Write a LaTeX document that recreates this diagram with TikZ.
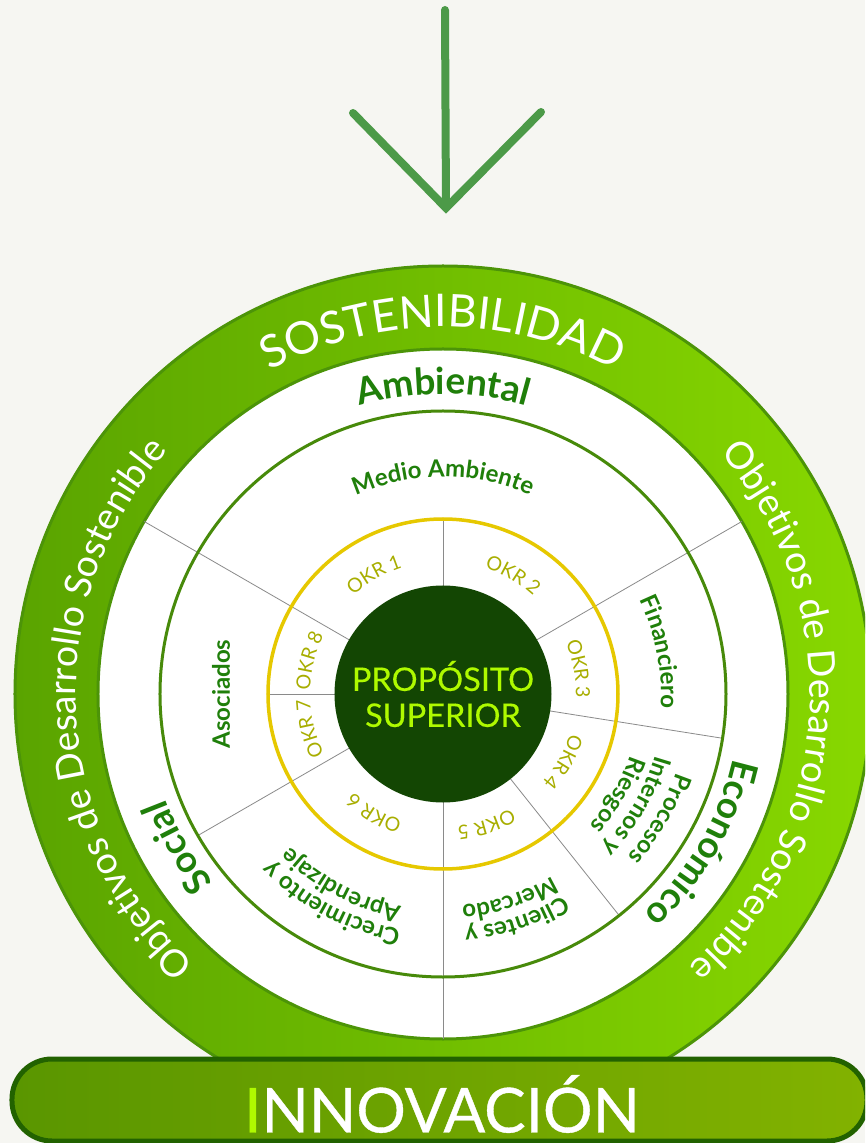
\documentclass[tikz,border=0pt]{standalone}
\usepackage{fontspec}
\setmainfont{Lato}
\usetikzlibrary{decorations.text,calc}
\definecolor{bgc}{HTML}{F6F6F2}
\definecolor{arrowc}{HTML}{4C9A48}
\definecolor{ringl}{HTML}{5AA400}
\definecolor{ringr}{HTML}{88D800}
\definecolor{ringb}{HTML}{4C9408}
\definecolor{innerc}{HTML}{478A0A}
\definecolor{darkc}{HTML}{134603}
\definecolor{limec}{HTML}{AFFA00}
\definecolor{txtg}{HTML}{1F7F0A}
\definecolor{okrt}{HTML}{A8AE00}
\definecolor{yelc}{HTML}{E6C800}
\definecolor{divc}{HTML}{8A8A8A}
\definecolor{barl}{HTML}{5A9600}
\definecolor{barr}{HTML}{82B200}
\definecolor{barb}{HTML}{226200}
\newcommand\fSos{\fontsize{45}{47}\selectfont\color{white}}
\newcommand\fObj{\fontsize{37.5}{39}\selectfont\color{white}}
\newcommand\fDim{\fontsize{37}{39}\selectfont\bfseries\color{txtg}}
\newcommand\fSec{\fontsize{24}{26}\selectfont\bfseries\color{txtg}}
\newcommand\fOkr{\fontsize{19.5}{21}\selectfont\color{okrt}}
\newcommand\arcT[5]{\path[decorate,decoration={text along path,text align=center,text={|#4|#5}}]
  (#2+#3:#1) arc[start angle=#2+#3,end angle=#2-#3,radius=#1];}
\tikzset{
  divider/.style={draw=divc,line width=0.8pt},
  arrowline/.style={draw=arrowc,line width=8pt,line cap=round,line join=miter},
}
\begin{document}
\begin{tikzpicture}[x=1pt,y=1pt]
\useasboundingbox (-443,-449) rectangle (422,694);
\clip (-443,-449) rectangle (422,694);
\fill[bgc] (-443,-449) rectangle (422,694);
% arrow
\coordinate (atop) at (2,684);
\coordinate (atip) at (3,486);
\coordinate (aleft) at (-90,581);
\coordinate (aright) at (98,582);
\path[arrowline] (atop) -- (atip);
\path[arrowline] (aleft) -- (atip) -- (aright);
% rings
\coordinate (c) at (0,0);
\shade[left color=ringl,right color=ringr] (c) circle[radius=429];
\draw[ringb,line width=3pt] (c) circle[radius=428];
\fill[white] (c) circle[radius=345];
\draw[ringb,line width=3pt] (c) circle[radius=345];
% dividers
\foreach \a/\r in {30/345,150/345,-90/345,-9/283,-51.5/283,210/283,90/175,180/175}{
  \draw[divider] (\a:108) -- (\a:\r);
}
\draw[innerc,line width=3pt] (c) circle[radius=283];
\draw[yelc,line width=3.5pt] (c) circle[radius=175];
\node[circle,fill=darkc,minimum size=217pt,inner sep=0pt,align=center,text=limec,font=\fontsize{32.5}{36}\selectfont\addfontfeature{FakeBold=0.3}] (core) at (c) {PROPÓSITO\\SUPERIOR};
% outer labels
\arcT{367}{90}{60}{\fSos}{SOSTENIBILIDAD}
\arcT{367}{183}{70}{\fObj}{Objetivos de Desarrollo Sostenible}
\arcT{367}{-3.5}{70}{\fObj}{Objetivos de Desarrollo Sostenible}
% dimensions
\arcT{300}{90}{40}{\fDim}{Ambiental}
\arcT{297}{-30}{40}{\fDim}{Económico}
\arcT{297}{210}{30}{\fDim}{Social}
% sections
\arcT{217}{90}{50}{\fSec}{Medio Ambiente}
\arcT{218}{11}{30}{\fSec}{Financiero}
\arcT{246}{-30}{30}{\fSec}{Procesos}
\arcT{221}{-30}{30}{\fSec}{Internos y}
\arcT{197}{-30}{30}{\fSec}{Riesgos}
\arcT{235}{-72}{30}{\fSec}{Clientes y}
\arcT{212}{-72}{30}{\fSec}{Mercado}
\arcT{239}{242}{34}{\fSec}{Crecimiento y}
\arcT{216}{242}{34}{\fSec}{Aprendizaje}
\node[rotate=90,font=\fSec] (asoc) at (-222,0) {Asociados};
% OKR
\arcT{133}{120}{25}{\fOkr}{OKR 1}
\arcT{133}{59.5}{25}{\fOkr}{OKR 2}
\arcT{133}{10.5}{20}{\fOkr}{OKR 3}
\arcT{133}{-29.5}{20}{\fOkr}{OKR 4}
\arcT{133}{-71.7}{25}{\fOkr}{OKR 5}
\arcT{133}{240}{25}{\fOkr}{OKR 6}
\arcT{133}{194.5}{20}{\fOkr}{OKR 7}
\arcT{133}{166}{20}{\fOkr}{OKR 8}
% bar
\draw[left color=barl,right color=barr,draw=barb,line width=5pt,rounded corners=40pt] (-431,-365) rectangle (424,-447);
\node[font=\fontsize{62}{64}\selectfont\addfontfeature{FakeBold=0.6},text=white,inner sep=0pt] (innov) at (-1,-410) {\textcolor{limec}{I}NNOVACIÓN};
\end{tikzpicture}
\end{document}
